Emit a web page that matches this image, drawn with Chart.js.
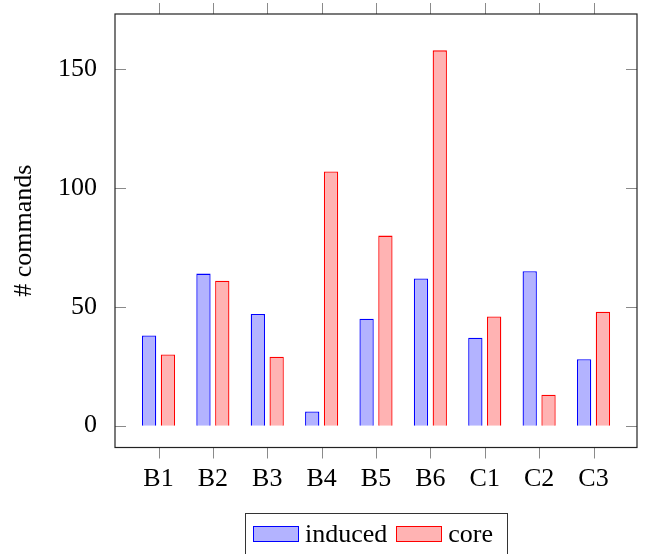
<!DOCTYPE html>
<html>
<head>
<meta charset="utf-8">
<script src="https://cdn.jsdelivr.net/npm/chart.js@4.4.0/dist/chart.umd.min.js"></script>
<style>
  body { margin: 0; background: #fff; }
  #wrap { position: relative; width: 646px; height: 554px; overflow: hidden; }
  #legend {
    position: absolute; left: 245px; top: 513px; width: 263px; height: 50px;
    border: 1px solid #333; border-bottom: none; box-sizing: border-box;
    display: flex; align-items: flex-start; padding: 0 7px 0 7px;
    font-family: 'Liberation Serif', 'DejaVu Serif', serif; font-size: 26px; color: #000;
  }
  .item { display: flex; align-items: center; margin-top: 5px; }
  .swatch { display: inline-block; width: 46px; height: 16px; box-sizing: border-box; border: 1.3px solid; margin-right: 6px; }
  .item + .item { margin-left: 9px; }
</style>
</head>
<body>
<div id="wrap">
  <canvas id="barChart" width="646" height="554"></canvas>
  <div id="legend"></div>
</div>
<script>
// 類別與數據
const categories = ['B1', 'B2', 'B3', 'B4', 'B5', 'B6', 'C1', 'C2', 'C3'];
const inducedValues = [38, 64, 47, 6, 45, 62, 37, 65, 28];
const coreValues = [30, 61, 29, 107, 80, 158, 46, 13, 48];
const yTickValues = [0, 50, 100, 150];
const seriesNames = ['induced', 'core'];

const fillColors = ['rgb(179, 179, 255)', 'rgb(255, 179, 179)'];
const lineColors = ['rgb(0, 0, 255)', 'rgb(255, 0, 0)'];
const fontFamily = "'Liberation Serif', 'DejaVu Serif', serif";

// 外框與刻度線（pgfplots 風格）
const framePlugin = {
    id: 'frame',
    afterDraw(chart) {
        const { ctx, chartArea: a, scales } = chart;
        const len = 11;
        ctx.save();
        ctx.strokeStyle = '#8a8a8a';
        ctx.lineWidth = 1;
        scales.x.ticks.forEach(t => {
            const px = Math.round(scales.x.getPixelForValue(t.value)) + 0.5;
            ctx.beginPath();
            ctx.moveTo(px, a.bottom); ctx.lineTo(px, a.bottom + len);
            ctx.moveTo(px, a.top - len); ctx.lineTo(px, a.top);
            ctx.stroke();
        });
        scales.y.ticks.forEach(t => {
            const py = Math.round(scales.y.getPixelForValue(t.value)) + 0.5;
            ctx.beginPath();
            ctx.moveTo(a.left, py); ctx.lineTo(a.left + len, py);
            ctx.moveTo(a.right - len, py); ctx.lineTo(a.right, py);
            ctx.stroke();
        });
        ctx.strokeStyle = '#222';
        ctx.lineWidth = 1.2;
        ctx.strokeRect(a.left, a.top, a.right - a.left, a.bottom - a.top);
        ctx.restore();
    }
};

function makeData(values) {
    return values.map((v, i) => ({ x: i, y: v }));
}

const ctx = document.getElementById('barChart').getContext('2d');
const chart = new Chart(ctx, {
    type: 'bar',
    data: {
        datasets: [inducedValues, coreValues].map((vals, k) => ({
            label: seriesNames[k],
            data: makeData(vals),
            backgroundColor: fillColors[k],
            borderColor: lineColors[k],
            borderWidth: 1.3,
            categoryPercentage: 0.692,
            barPercentage: 0.76
        }))
    },
    options: {
        responsive: false,
        animation: false,
        layout: { padding: { top: 14, right: 9, left: 0, bottom: 0 } },
        plugins: { legend: { display: false }, tooltip: { enabled: false } },
        scales: {
            x: {
                type: 'linear',
                offset: false,
                min: -0.8,
                max: 8.8,
                grid: { display: false },
                border: { display: false },
                afterBuildTicks: s => { s.ticks = categories.map((c, i) => ({ value: i })); },
                afterFit: s => { s.height = 106.5; s.paddingLeft = 0; s.paddingRight = 0; },
                ticks: {
                    autoSkip: false,
                    maxRotation: 0,
                    padding: 8,
                    color: '#000',
                    font: { family: fontFamily, size: 26 },
                    callback: v => categories[v]
                }
            },
            y: {
                min: -9.2,
                max: 173.3,
                grid: { display: false },
                border: { display: false },
                afterBuildTicks: s => { s.ticks = yTickValues.map(v => ({ value: v })); },
                afterFit: s => { s.width = 115; s.paddingTop = 0; s.paddingBottom = 0; },
                ticks: {
                    padding: 10,
                    color: '#000',
                    font: { family: fontFamily, size: 26 }
                },
                title: {
                    display: true,
                    text: '# commands',
                    color: '#000',
                    padding: { top: 9, bottom: 0 },
                    font: { family: fontFamily, size: 26 }
                }
            }
        }
    },
    plugins: [framePlugin]
});

// 圖例
const legend = document.getElementById('legend');
seriesNames.forEach((name, k) => {
    const item = document.createElement('div');
    item.className = 'item';
    const sw = document.createElement('span');
    sw.className = 'swatch';
    sw.style.background = fillColors[k];
    sw.style.borderColor = lineColors[k];
    const txt = document.createElement('span');
    txt.textContent = name;
    item.appendChild(sw);
    item.appendChild(txt);
    legend.appendChild(item);
});
</script>
</body>
</html>
